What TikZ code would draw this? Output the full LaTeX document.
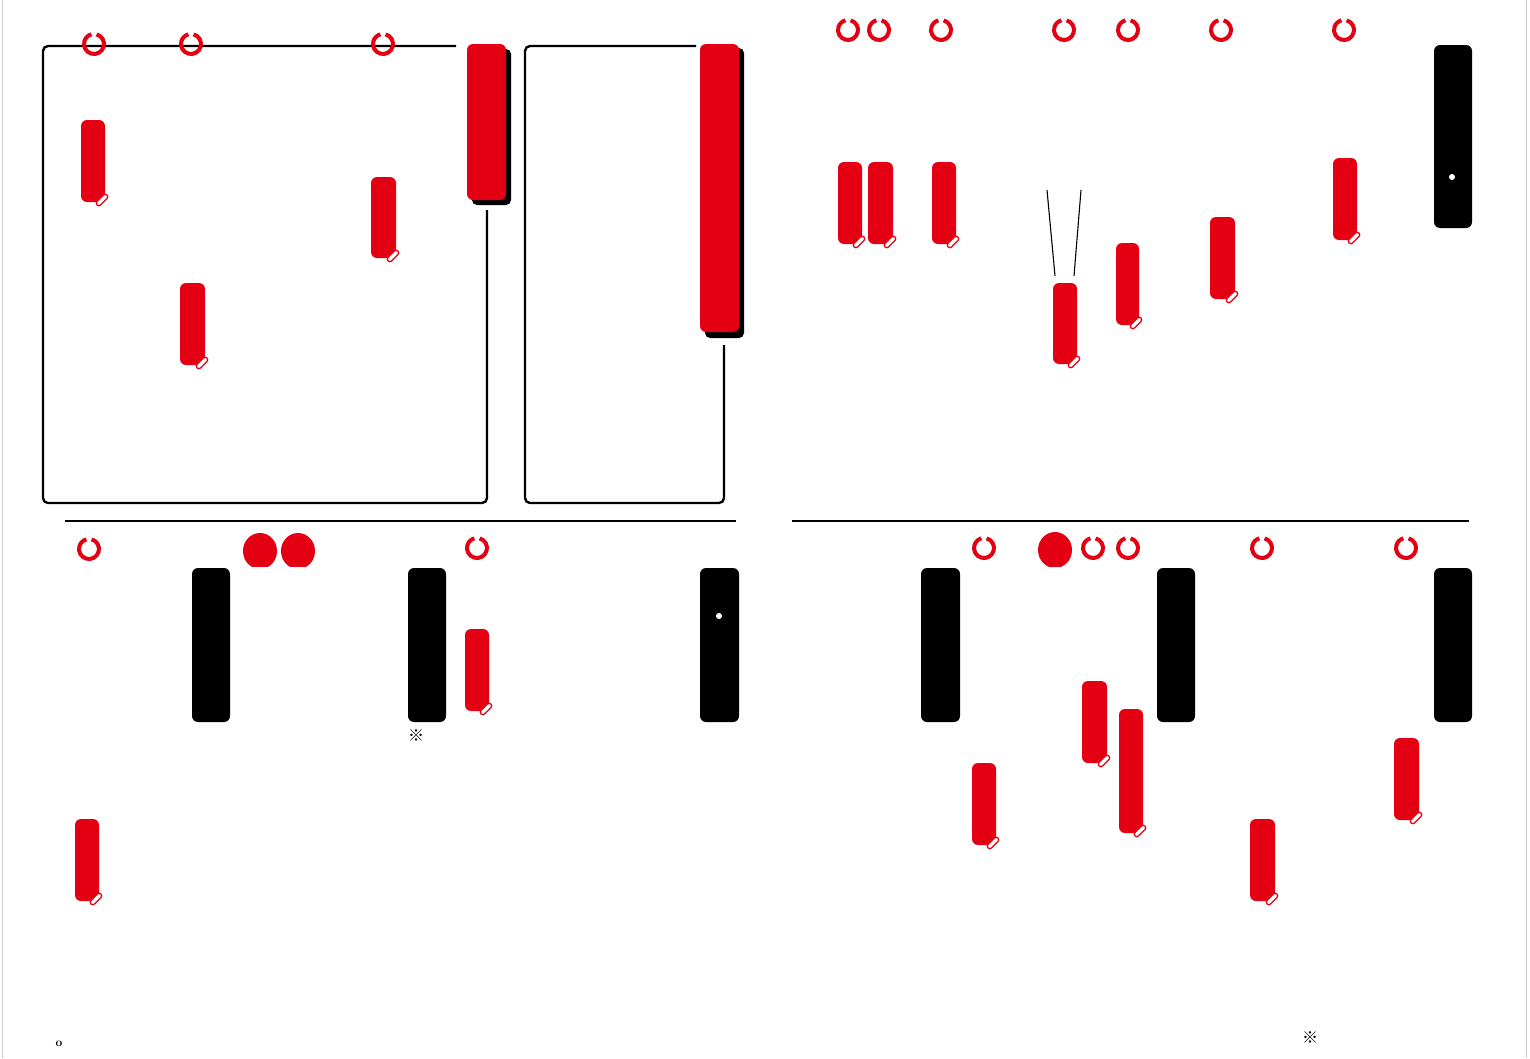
\documentclass[tikz,border=0pt]{standalone}
\usepackage{fontspec}
\newfontfamily\jpfont{Noto Sans CJK JP}
\definecolor{sealred}{RGB}{228,0,18}
\tikzset{
  frameline/.style={line width=2.4pt, black, rounded corners=5pt},
  ruleline/.style={line width=1.8pt, black},
  ring/.style={draw=sealred, line width=4pt},
  redbar/.style={fill=sealred, rounded corners=6pt},
  blackbar/.style={fill=black, rounded corners=6pt},
  shadowbar/.style={fill=black, rounded corners=5pt},
  tail/.style={draw=sealred, fill=white, line width=1.3pt, rounded corners=2.5pt},
  thinline/.style={line width=1.1pt, black},
  refmark/.style={font=\jpfont\fontsize{16}{16}\selectfont, inner sep=0pt}
}
\newcommand{\myseal}[4]{%
  \fill[redbar] (#1,#2) rectangle (#3,#4);
  \draw[tail, rotate around={45:(#3-3,#4-2)}] (#3-10,#4-4.5) rectangle (#3+4,#4+0.5);
}
\newcommand{\myring}[2]{%
  \draw[ring] (#1,#2) ++(-75:10) arc[start angle=-75, end angle=255, radius=10];
}
\begin{document}
\begin{tikzpicture}[x=1pt,y=-1pt]
\useasboundingbox (0,0) rectangle (1530,1058);
\fill[white] (0,0) rectangle (1530,1058);
% page edges
\draw[gray!40, line width=1pt] (2.5,0) -- (2.5,1058);
\draw[gray!40, line width=1pt] (1526,0) -- (1526,1058);

% ===== top-left frames =====
\draw[frameline] (456,46) -- (43,46) -- (43,503) -- (487,503) -- (487,210);
\fill[shadowbar] (472,49) rectangle (511,205);
\fill[redbar] (467,44) rectangle (506,200);

\draw[frameline] (696,46) -- (525,46) -- (525,503) -- (724,503) -- (724,345);
\fill[shadowbar] (705,48) rectangle (744,338);
\fill[redbar] (700,44) rectangle (739,332);

\myring{94}{44}
\myring{191}{44}
\myring{383}{44}
\myseal{81}{120}{105}{202}
\myseal{371}{177}{396}{258}
\myseal{180}{283}{205}{365}

% ===== top-right =====
\foreach \cx in {848,879,941,1064,1128,1221,1344} {\myring{\cx}{30}}
\myseal{838}{162}{862}{244}
\myseal{868}{162}{893}{244}
\myseal{932}{162}{956}{244}
\myseal{1053}{283}{1077}{364}
\myseal{1116}{243}{1139}{325}
\myseal{1210}{217}{1235}{299}
\myseal{1333}{158}{1357}{240}
\fill[blackbar] (1434,45) rectangle (1472,228);
\fill[white] (1452,177) circle (3pt);
\coordinate (la) at (1047,190);
\coordinate (lb) at (1055,276);
\coordinate (lc) at (1081,190);
\coordinate (ld) at (1074,276);
\draw[thinline] (la) -- (lb);
\draw[thinline] (lc) -- (ld);

% ===== separators =====
\draw[ruleline] (65,521) -- (736,521);
\draw[ruleline] (792,521) -- (1469,521);

% ===== bottom-left =====
\myring{89}{549}
\fill[sealred] (260,551) ellipse (17pt and 18pt);
\fill[sealred] (298,551) ellipse (17pt and 18pt);
\fill[white] (240,567) rectangle (320,576);
\myring{477}{548}
\fill[blackbar] (192,568) rectangle (230,722);
\fill[blackbar] (408,568) rectangle (446,722);
\fill[blackbar] (700,568) rectangle (739,722);
\fill[white] (719,616) circle (3pt);
\myseal{465}{629}{489}{711}
\myseal{75}{819}{99}{901}
\node[refmark] (m1) at (416,736) {※};

% ===== bottom-right =====
\foreach \cx in {984,1093,1128,1262,1406} {\myring{\cx}{548}}
\fill[sealred] (1055,550) ellipse (17pt and 18pt);
\fill[white] (1035,567) rectangle (1075,576);
\fill[blackbar] (921,568) rectangle (960,722);
\fill[blackbar] (1157,568) rectangle (1195,722);
\fill[blackbar] (1434,568) rectangle (1472,722);
\myseal{972}{763}{996}{845}
\myseal{1082}{681}{1107}{763}
\myseal{1119}{709}{1143}{833}
\myseal{1250}{819}{1275}{901}
\myseal{1394}{738}{1419}{820}
\node[refmark] (m2) at (1310,1038) {※};
\node[inner sep=0pt, font=\bfseries\fontsize{12}{12}\selectfont] (o1) at (59,1044) {o};
\end{tikzpicture}
\end{document}
